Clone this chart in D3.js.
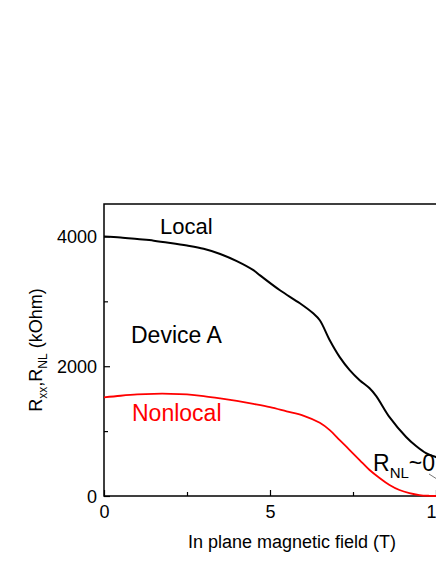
<!DOCTYPE html>
<html>
<head>
<meta charset="utf-8">
<script src="https://cdn.jsdelivr.net/npm/d3@7"></script>
<style>
  html, body { margin: 0; padding: 0; background: #fff; }
  svg { display: block; }
  text { font-family: "Liberation Sans", Arial, sans-serif; }
</style>
</head>
<body>
<svg id="chart" width="436" height="564"></svg>
<script>
// ---- data ----
const localField = [0, 0.5, 1, 1.5, 2, 2.5, 3, 3.5, 4, 4.5, 4.7, 5.3, 5.9, 6.3, 6.5, 6.8, 7.1, 7.4, 7.7, 8.0, 8.2, 8.6, 9.1, 9.4, 9.7, 10, 10.3];
const localR     = [4000, 3985, 3960, 3935, 3900, 3860, 3810, 3730, 3620, 3480, 3400, 3170, 2970, 2815, 2708, 2400, 2140, 1940, 1785, 1660, 1540, 1215, 910, 770, 660, 600, 540];
const nonlocalField = [0, 0.5, 1, 1.5, 2, 2.5, 3, 3.5, 4, 4.5, 5, 5.5, 6, 6.5, 6.8, 7.1, 7.4, 7.7, 8.0, 8.3, 8.6, 8.9, 9.2, 9.5, 9.8, 10, 10.3];
const nonlocalR     = [1520, 1545, 1565, 1575, 1575, 1565, 1540, 1505, 1465, 1420, 1370, 1305, 1240, 1128, 1015, 862, 708, 554, 400, 277, 170, 92, 45, 15, 3, 0, 0];
const xMajorTicks = [0, 5, 10];
const xMinorTicks = [2.5, 7.5];
const yMajorTicks = [0, 2000, 4000];
const yMinorTicks = [1000, 3000];
const xLabel = "In plane magnetic field (T)";

// ---- layout ----
const svg = d3.select("#chart");
const mLeft = 104, mTop = 204, mBottom = 496;
const x = d3.scaleLinear().domain([0, 10]).range([mLeft, 436]);
const y = d3.scaleLinear().domain([0, 4500]).range([mBottom, mTop]);

// frame (right side extends past the picture edge)
svg.append("rect")
  .attr("x", mLeft).attr("y", mTop)
  .attr("width", x(11) - mLeft).attr("height", mBottom - mTop)
  .attr("fill", "none").attr("stroke", "#000").attr("stroke-width", 1.5);

// axes
const xAxis = svg.append("g").attr("transform", `translate(0,${mBottom})`)
  .call(d3.axisBottom(x).tickValues(xMajorTicks).tickSizeInner(-6).tickSizeOuter(0).tickFormat(d3.format("d")));
svg.append("g").attr("transform", `translate(0,${mBottom})`)
  .call(d3.axisBottom(x).tickValues(xMinorTicks).tickSizeInner(-4).tickSizeOuter(0).tickFormat(""));
const yAxis = svg.append("g").attr("transform", `translate(${mLeft},0)`)
  .call(d3.axisLeft(y).tickValues(yMajorTicks).tickSizeInner(-6).tickSizeOuter(0).tickFormat(d3.format("d")));
svg.append("g").attr("transform", `translate(${mLeft},0)`)
  .call(d3.axisLeft(y).tickValues(yMinorTicks).tickSizeInner(-4).tickSizeOuter(0).tickFormat(""));

svg.selectAll(".domain").attr("stroke", "none");
svg.selectAll(".tick line").attr("stroke", "#000").attr("stroke-width", 1.2);
xAxis.selectAll("text").attr("y", 22).attr("dy", 0).attr("font-size", 18)
  .attr("fill", "#000").attr("font-family", "Liberation Sans, Arial, sans-serif");
yAxis.selectAll("text").attr("x", -7).attr("dy", "0.36em").attr("font-size", 18)
  .attr("fill", "#000").attr("font-family", "Liberation Sans, Arial, sans-serif");

// curves
const line = d3.line().curve(d3.curveCatmullRom.alpha(0.5));
svg.append("path")
  .attr("d", line(localField.map((f, i) => [x(f), y(localR[i])])))
  .attr("fill", "none").attr("stroke", "#000").attr("stroke-width", 2);
svg.append("path")
  .attr("d", line(nonlocalField.map((f, i) => [x(f), y(nonlocalR[i])])))
  .attr("fill", "none").attr("stroke", "#ff0000").attr("stroke-width", 1.8);

// axis titles
svg.append("text").attr("x", 292).attr("y", 548).attr("text-anchor", "middle")
  .attr("font-size", 18).text(xLabel);
const yt = svg.append("text")
  .attr("transform", `translate(42,${(mTop + mBottom) / 2}) rotate(-90)`)
  .attr("text-anchor", "middle").attr("font-size", 18);
yt.append("tspan").text("R");
yt.append("tspan").attr("font-size", 12).attr("dy", 5).text("xx");
yt.append("tspan").attr("dy", -5).text(",R");
yt.append("tspan").attr("font-size", 12).attr("dy", 5).text("NL");
yt.append("tspan").attr("dy", -5).text(" (kOhm)");

// annotations
svg.append("text").attr("x", 160).attr("y", 234).attr("font-size", 22).text("Local");
svg.append("text").attr("x", 131).attr("y", 343).attr("font-size", 23).text("Device A");
svg.append("text").attr("x", 132).attr("y", 421).attr("font-size", 23).attr("fill", "#ff0000").text("Nonlocal");
const rn = svg.append("text").attr("x", 373).attr("y", 471).attr("font-size", 23);
rn.append("tspan").text("R");
rn.append("tspan").attr("font-size", 15).attr("dy", 7).text("NL");
rn.append("tspan").attr("dy", -7).text("~0");
svg.append("line").attr("x1", 429).attr("y1", 474).attr("x2", 440).attr("y2", 481)
  .attr("stroke", "#555").attr("stroke-width", 0.8);
</script>
</body>
</html>
